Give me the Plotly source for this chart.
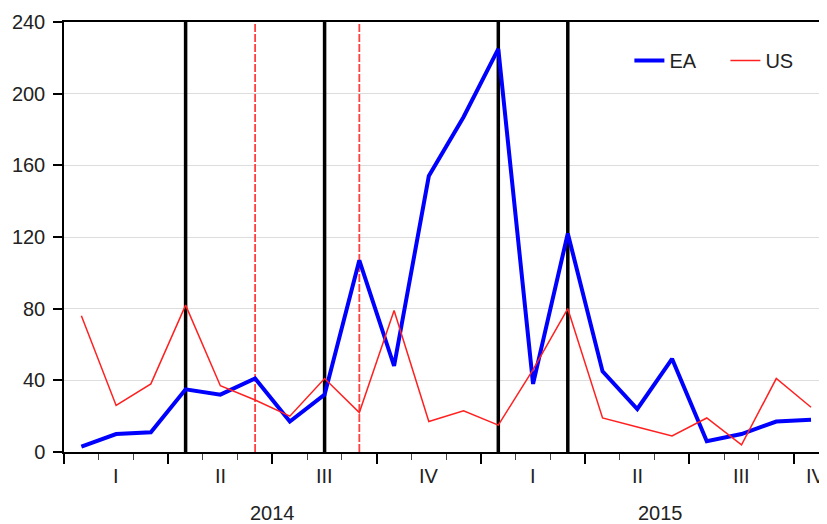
import plotly.graph_objects as go

# Monthly data, Jan 2014 .. Oct 2015
months = ["2014-01", "2014-02", "2014-03", "2014-04", "2014-05", "2014-06",
          "2014-07", "2014-08", "2014-09", "2014-10", "2014-11", "2014-12",
          "2015-01", "2015-02", "2015-03", "2015-04", "2015-05", "2015-06",
          "2015-07", "2015-08", "2015-09", "2015-10"]
ea = [3, 10, 11, 35, 32, 41, 17, 32, 107, 48, 154, 187,
      225, 38, 122, 45, 24, 52, 6, 10, 17, 18]
us = [76, 26, 38, 82, 37, 29, 20, 41, 22, 79, 17, 23,
      15, 46, 80, 19, 14, 9, 19, 4, 41, 25]

# Event months (vertical markers)
events_black = ["2014-04", "2014-08", "2015-01", "2015-03"]
events_red = ["2014-06", "2014-09"]

quarter_labels = ["I", "II", "III", "IV", "I", "II", "III", "IV"]
quarter_months = [["2014-01", "2014-02", "2014-03"], ["2014-04", "2014-05", "2014-06"],
                  ["2014-07", "2014-08", "2014-09"], ["2014-10", "2014-11", "2014-12"],
                  ["2015-01", "2015-02", "2015-03"], ["2015-04", "2015-05", "2015-06"],
                  ["2015-07", "2015-08", "2015-09"], ["2015-10"]]
year_labels = ["2014", "2015"]
y_ticks = [0, 40, 80, 120, 160, 200, 240]

idx = {m: i for i, m in enumerate(months)}
x = list(range(len(months)))

FONT = "Liberation Sans, Arial, sans-serif"
TXT = "#222222"
FS = 20

fig = go.Figure()
fig.add_trace(go.Scatter(x=x, y=ea, mode="lines", name="EA",
                         line=dict(color="#0000FF", width=4)))
fig.add_trace(go.Scatter(x=x, y=us, mode="lines", name="US",
                         line=dict(color="#FF2020", width=1.5)))

for m in events_black:
    fig.add_shape(type="line", xref="x", yref="y", x0=idx[m], x1=idx[m], y0=0, y1=240,
                  line=dict(color="black", width=3.5), layer="between")
for m in events_red:
    fig.add_shape(type="line", xref="x", yref="y", x0=idx[m], x1=idx[m], y0=0, y1=240,
                  line=dict(color="#FF4040", width=1.8, dash="8px,2px"), layer="between")

# quarter labels
for lab, ms in zip(quarter_labels, quarter_months):
    cx = (idx[ms[0]] + idx[ms[-1]]) / 2
    if len(ms) == 1:
        cx += 0.14
    fig.add_annotation(x=cx, xref="x", y=0, yref="paper", yshift=-24, yanchor="middle",
                       text=lab, showarrow=False, font=dict(family=FONT, size=FS, color=TXT))

# year labels
year_centers = [5.5, 16.68]
for lab, cx in zip(year_labels, year_centers):
    fig.add_annotation(x=cx, xref="x", y=0, yref="paper", yshift=-60.5, yanchor="middle",
                       text=lab, showarrow=False, font=dict(family=FONT, size=FS, color=TXT))

fig.update_layout(
    width=827, height=524,
    margin=dict(l=56, r=8, t=14, b=80, autoexpand=False),
    paper_bgcolor="white", plot_bgcolor="white",
    font=dict(family=FONT, size=FS, color=TXT),
    showlegend=True,
    legend=dict(orientation="h", x=0.741, y=0.956, xanchor="left", yanchor="top",
                bgcolor="rgba(0,0,0,0)", font=dict(size=FS, color=TXT),
                entrywidth=51, tracegroupgap=0),
    xaxis=dict(range=[-0.5, 21.46], showgrid=False, zeroline=False, automargin=False,
               showline=True, linecolor="black", linewidth=1.5, mirror=True,
               tickmode="array", tickvals=[-0.5, 2.5, 5.5, 8.5, 11.5, 14.5, 17.5, 20.5],
               ticktext=[""] * 8, ticks="outside", ticklen=10, tickwidth=1.5, tickcolor="black",
               minor=dict(tickmode="linear", tick0=-0.5, dtick=1, ticks="outside",
                          ticklen=6, tickwidth=1, tickcolor="#444444", showgrid=False)),
    yaxis=dict(range=[0, 240], tickvals=y_ticks, showgrid=True, gridcolor="#DDDDDD",
               gridwidth=1, zeroline=False, showline=True, linecolor="black", linewidth=1.5,
               automargin=False,
               ticks="outside", ticklen=9, tickcolor="black", tickwidth=1.5,
               ticklabelstandoff=4, tickfont=dict(family=FONT, size=FS, color=TXT)),
)

fig.write_html("out.html")
